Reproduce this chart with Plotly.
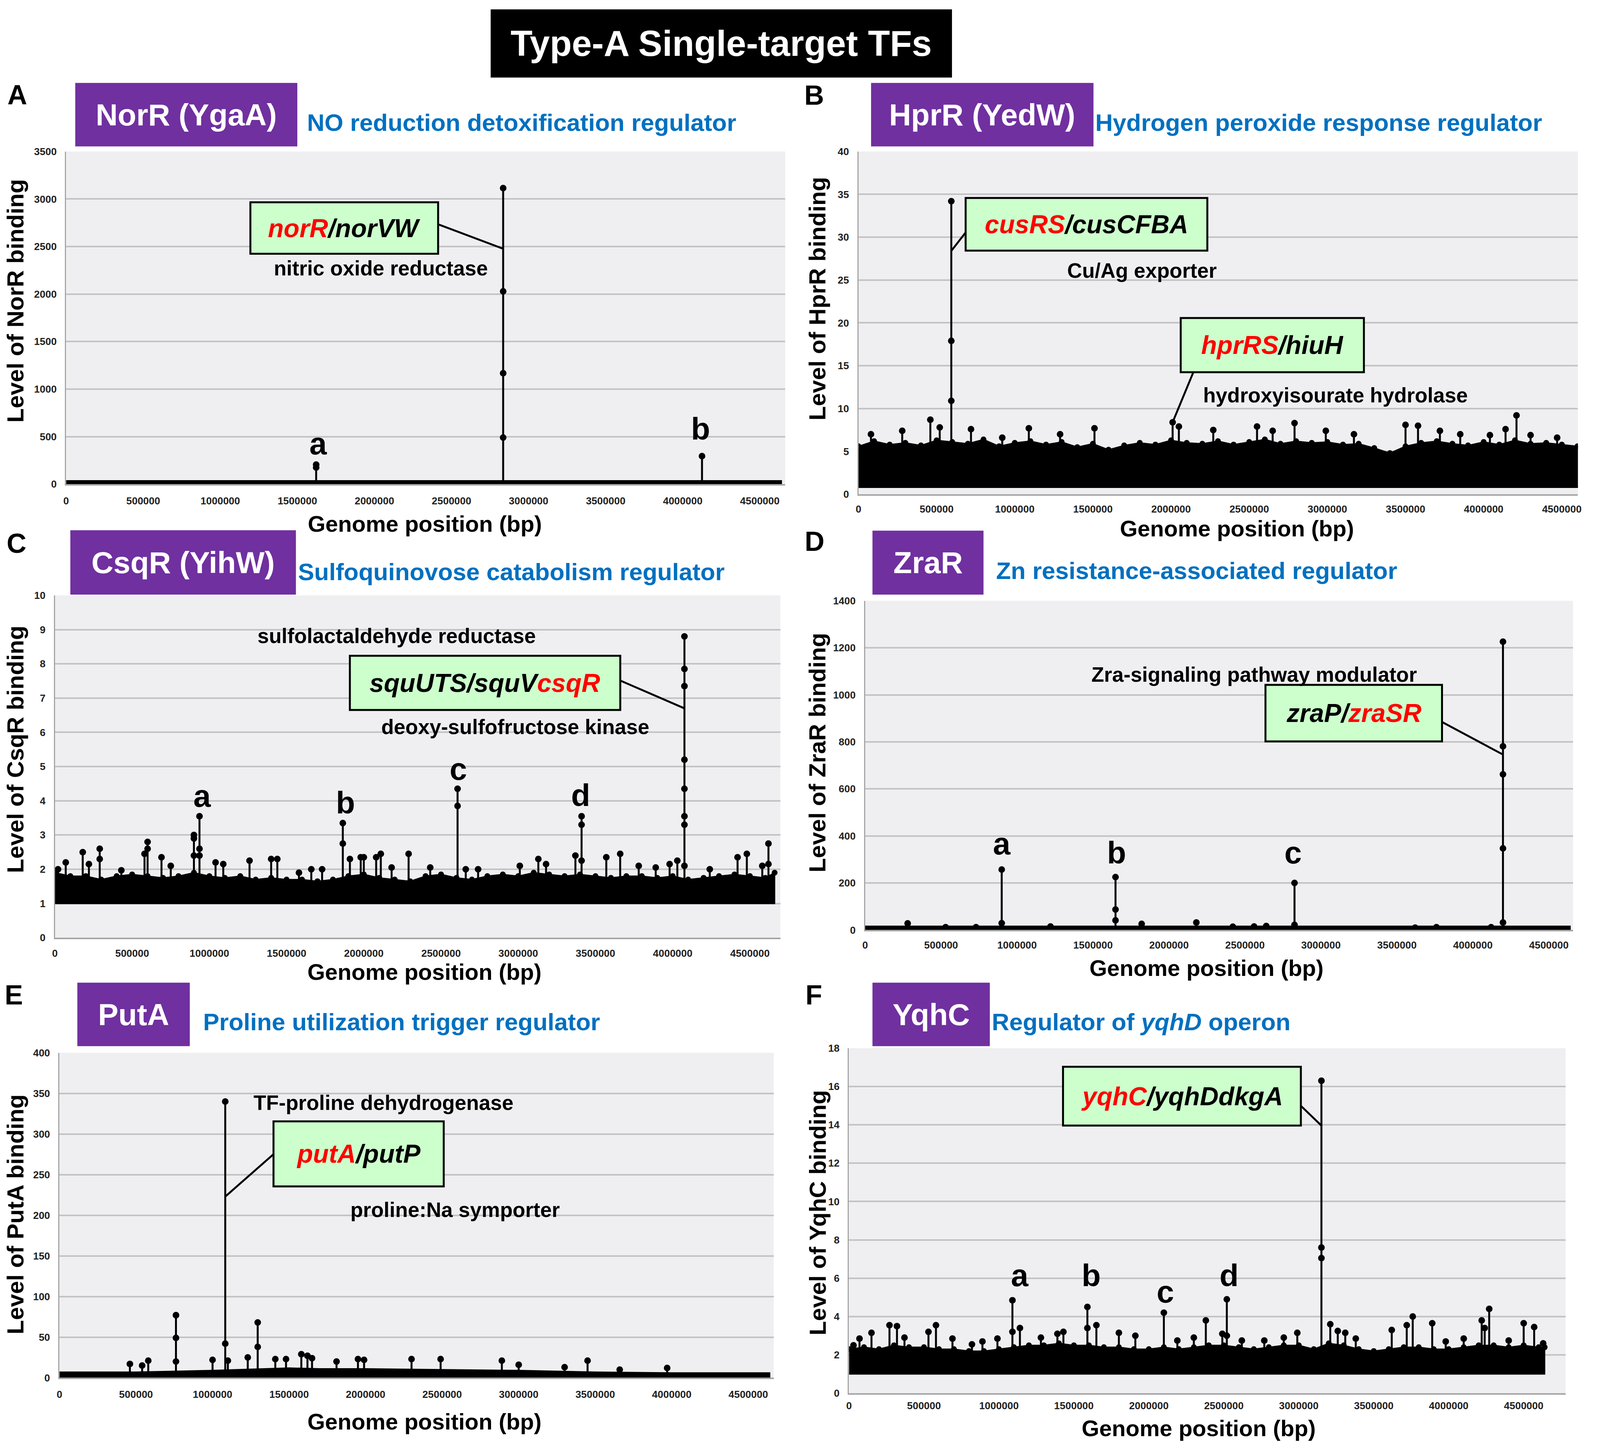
import plotly.graph_objects as go

# ---------------- data (positions in kbp) ----------------
X_TICKS = [0, 500000, 1000000, 1500000, 2000000, 2500000, 3000000, 3500000, 4000000, 4500000]
KB = 1000

# A  NorR
A_PEAK_KB = [1622, 2835, 4125]
A_PEAK_VALS = [[206, 175], [3115, 2029, 1168, 491], [295]]
A_BAND_KB = [0, 4640]
A_BAND_HI = [36, 36]
A_BAND_LO = 0

# B  HprR
B_PEAK_KB = [80, 280, 460, 520, 594, 720, 920, 1090, 1290, 1510,
             2010, 2050, 2270, 2550, 2650, 2790, 2990, 3170, 3500, 3580,
             3720, 3850, 4040, 4140, 4210, 4300, 4470]
B_PEAK_VALS = [[7.0], [7.4], [8.7], [7.8], [34.2, 17.9, 10.9], [7.6], [6.6], [7.7], [7.0], [7.7],
               [8.4], [7.9], [7.5], [7.9], [7.4], [8.3], [7.4], [7.0], [8.1], [8.0],
               [7.4], [7.0], [6.9], [7.6], [9.2], [6.9], [6.6]]
B_BAND_KB = [0, 100, 200, 300, 400, 500, 600, 700, 800, 900,
             1000, 1100, 1200, 1300, 1400, 1500, 1600, 1700, 1800, 1900,
             2000, 2100, 2200, 2300, 2400, 2500, 2600, 2700, 2800, 2900,
             3000, 3100, 3200, 3300, 3400, 3500, 3600, 3700, 3800, 3900,
             4000, 4100, 4200, 4300, 4400, 4500, 4600, 4640]
B_BAND_HI = [5.6, 6.2, 5.8, 6.0, 5.7, 6.3, 6.1, 5.9, 6.4, 5.6,
             6.0, 6.2, 5.8, 6.1, 5.5, 5.9, 5.2, 5.7, 6.0, 5.8,
             6.3, 6.0, 5.9, 6.2, 5.8, 6.1, 6.4, 5.9, 6.2, 6.0,
             6.1, 5.8, 5.9, 5.4, 4.8, 5.6, 6.0, 6.2, 5.9, 5.7,
             6.1, 5.8, 6.3, 5.9, 6.0, 5.8, 5.6, 5.4]
B_BAND_LO = 0.8

# C  CsqR
C_PEAK_KB = [20, 70, 180, 220, 290, 430, 580, 600, 690, 750,
             900, 936, 1040, 1090, 1260, 1400, 1440, 1580, 1660, 1730,
             1864, 1910, 1980, 2000, 2080, 2110, 2180, 2290, 2430, 2607,
             2660, 2740, 3010, 3130, 3180, 3370, 3410, 3570, 3660, 3780,
             3890, 3980, 4030, 4076, 4240, 4420, 4480, 4580, 4620]
C_PEAK_VALS = [[2.0], [2.2], [2.5], [2.15], [2.6, 2.3], [1.97], [2.45], [2.8, 2.6], [2.35], [2.1],
               [3.0, 2.9, 2.4], [3.55, 2.6, 2.4], [2.2], [2.15], [2.25], [2.3], [2.3], [1.9], [2.0], [2.0],
               [3.35, 2.75], [2.3], [2.35], [2.35], [2.35], [2.45], [2.05], [2.45], [2.05], [4.35, 3.85],
               [2.0], [2.0], [2.1], [2.3], [2.15], [2.4], [3.55, 3.3, 2.25], [2.35], [2.45], [2.1],
               [2.05], [2.15], [2.25], [8.8, 7.85, 7.35, 5.2, 4.35, 3.55, 3.3, 2.1], [2.0], [2.35], [2.45], [2.1], [2.75, 2.15]]
C_BAND_KB = B_BAND_KB[:-1] + [4660]
C_BAND_HI = [1.9, 1.8, 1.8, 1.7, 1.8, 1.85, 1.8, 1.75, 1.8, 1.9,
             1.8, 1.75, 1.8, 1.7, 1.75, 1.7, 1.7, 1.65, 1.7, 1.8,
             1.85, 1.75, 1.7, 1.65, 1.8, 1.85, 1.75, 1.7, 1.8, 1.85,
             1.8, 1.9, 1.85, 1.8, 1.85, 1.8, 1.75, 1.8, 1.8, 1.75,
             1.8, 1.7, 1.75, 1.8, 1.85, 1.8, 1.75, 1.9]
C_BAND_LO = 1.0

# D  ZraR
D_PEAK_KB = [280, 530, 730, 899, 1220, 1648, 1820, 2180, 2420, 2560, 2640, 2826, 3620, 3760, 4120, 4198]
D_PEAK_VALS = [[28], [12], [12], [257, 29], [15], [225, 87, 41], [26], [32], [14], [15], [17],
               [200, 22], [10], [12], [12], [1226, 781, 662, 347, 32]]
D_BAND_KB = [0, 4640]
D_BAND_HI = [16, 16]
D_BAND_LO = 0

# E  PutA
E_PEAK_KB = [460, 540, 580, 761, 1000, 1083, 1100, 1230, 1295, 1410,
             1480, 1580, 1620, 1650, 1810, 1950, 1990, 2300, 2490, 2890,
             3000, 3300, 3450, 3660, 3970]
E_PEAK_VALS = [[17], [15], [21], [77, 49, 20], [22], [340, 42], [21], [25], [68, 38], [23],
               [23], [29], [27], [24], [20], [23], [22], [23], [23], [21],
               [16], [13], [21], [10], [12]]
E_BAND_KB = [0, 500, 1000, 1500, 1700, 2000, 2500, 3000, 3500, 4000, 4640]
E_BAND_HI = [7, 7, 9, 12, 11, 11, 10, 9, 7, 6, 6]
E_BAND_LO = 0

# F  YqhC
F_PEAK_KB = [30, 70, 150, 270, 320, 370, 530, 580, 690, 820,
             890, 990, 1090, 1140, 1280, 1390, 1430, 1590, 1650, 1800,
             1910, 2100, 2190, 2300, 2380, 2490, 2520, 2620, 2770, 2900,
             2990, 3151, 3210, 3260, 3310, 3380, 3620, 3720, 3760, 3890,
             3980, 4100, 4220, 4240, 4270, 4400, 4500, 4570, 4630]
F_PEAK_VALS = [[2.5], [2.85], [3.15], [3.55], [3.5], [2.9], [3.2], [3.55], [2.85], [2.55],
               [2.7], [2.85], [4.85, 3.2], [3.4], [2.9], [3.1], [3.2], [4.5, 3.4], [3.55], [3.15],
               [3.0], [4.2], [2.75], [2.9], [3.8], [3.1], [4.9, 3.0], [2.75], [2.75], [2.9],
               [3.15], [16.3, 7.6, 7.05], [3.6], [3.25], [3.15], [2.85], [3.3], [3.55], [4.0], [3.65],
               [2.7], [2.85], [3.8], [3.4], [4.4], [2.75], [3.65], [3.45], [2.6]]
F_BAND_KB = B_BAND_KB
F_BAND_HI = [2.3, 2.4, 2.3, 2.5, 2.4, 2.4, 2.3, 2.3, 2.2, 2.2,
             2.3, 2.4, 2.5, 2.5, 2.6, 2.5, 2.5, 2.4, 2.4, 2.3,
             2.3, 2.4, 2.3, 2.4, 2.5, 2.5, 2.4, 2.3, 2.4, 2.5,
             2.5, 2.3, 2.6, 2.5, 2.3, 2.2, 2.3, 2.4, 2.4, 2.3,
             2.3, 2.4, 2.5, 2.5, 2.4, 2.5, 2.4, 2.4]
F_BAND_LO = 1.0

# ---------------- layout ----------------
# positions below are pixels measured on the 4550 x 3714 original; they are
# turned into paper fractions, so the page itself can be sized to the window
REF_W, REF_H = 4550, 3714
PAGE_W, PAGE_H = 4096, 3712
FONT = "Liberation Sans, Arial, sans-serif"
PURPLE = "#7030A0"
BLUE = "#0070C0"
RED = "#FF0000"
GENE_FILL = "#CCFFCC"


def red(s):
    return '<span style="color:%s">%s</span>' % (RED, s)


PANELS = [
    dict(data=(A_PEAK_KB, A_PEAK_VALS, A_BAND_KB, A_BAND_HI, A_BAND_LO), band_marks=False,
         letter=("A", 42, 230), box=(181, 376, 2234, 1235), xmax=4665000, ymax=3500, dtick=500,
         tf=("NorR (YgaA)", (207, 199, 841, 363)),
         sub=("NO reduction detoxification regulator", 866, 301),
         ytitle=("Level of NorR binding", 36, 762), xtitle=(1205, 1337), xstand=16,
         genes=[((707, 507, 1243, 640), "<i>%s/norVW</i>" % red("norR"), (1243, 564), (A_PEAK_KB[1], 2477))],
         notes=[("nitric oxide reductase", 1080, 677)],
         marks=[("a", 900, 1130), ("b", 1992, 1092)]),
    dict(data=(B_PEAK_KB, B_PEAK_VALS, B_BAND_KB, B_BAND_HI, B_BAND_LO), band_marks=True,
         letter=("B", 2317, 231), box=(2443, 376, 4497, 1261), xmax=4603000, ymax=40, dtick=5,
         tf=("HprR (YedW)", (2479, 199, 3114, 363)),
         sub=("Hydrogen peroxide response regulator", 3117, 301),
         ytitle=("Level of HprR binding", 2326, 756), xtitle=(3523, 1349), xstand=12,
         genes=[((2749, 496, 3439, 632), "<i>%s/cusCFBA</i>" % red("cusRS"), (2749, 585), (B_PEAK_KB[4], 28.4)),
                ((3363, 806, 3886, 946), "<i>%s/hiuH</i>" % red("hprRS"), (3399, 946), (B_PEAK_KB[10], 8.4))],
         notes=[("Cu/Ag exporter", 3253, 683), ("hydroxyisourate hydrolase", 3804, 1005)],
         marks=[]),
    dict(data=(C_PEAK_KB, C_PEAK_VALS, C_BAND_KB, C_BAND_HI, C_BAND_LO), band_marks=True,
         letter=("C", 40, 1388), box=(149, 1522, 2220, 2406), xmax=4697000, ymax=10, dtick=1,
         tf=("CsqR (YihW)", (193, 1354, 837, 1520)),
         sub=("Sulfoquinovose catabolism regulator", 841, 1461),
         ytitle=("Level of CsqR binding", 36, 1920), xtitle=(1204, 2494), xstand=14,
         genes=[((991, 1678, 1763, 1818), "<i>squUTS/squV%s</i>" % red("csqR"), (1763, 1742), (C_PEAK_KB[43], 6.7))],
         notes=[("sulfolactaldehyde reductase", 1125, 1627), ("deoxy-sulfofructose kinase", 1463, 1862)],
         marks=[("a", 569, 2040), ("b", 979, 2057), ("c", 1301, 1970), ("d", 1650, 2038)]),
    dict(data=(D_PEAK_KB, D_PEAK_VALS, D_BAND_KB, D_BAND_HI, D_BAND_LO), band_marks=False,
         letter=("D", 2318, 1383), box=(2462, 1536, 4483, 2386), xmax=4659000, ymax=1400, dtick=200,
         tf=("ZraR", (2483, 1355, 2800, 1520)),
         sub=("Zn resistance-associated regulator", 2834, 1458),
         ytitle=("Level of ZraR binding", 2326, 1928), xtitle=(3436, 2484), xstand=12,
         genes=[((3605, 1753, 4109, 1899), "<i>zraP/%s</i>" % red("zraSR"), (4109, 1849), (D_PEAK_KB[15], 746))],
         notes=[("Zra-signaling pathway modulator", 3572, 1726)],
         marks=[("a", 2852, 2163), ("b", 3180, 2186), ("c", 3684, 2186)]),
    dict(data=(E_PEAK_KB, E_PEAK_VALS, E_BAND_KB, E_BAND_HI, E_BAND_LO), band_marks=False,
         letter=("E", 32, 2554), box=(162, 2703, 2201, 3542), xmax=4666000, ymax=400, dtick=50,
         tf=("PutA", (213, 2522, 534, 2686)),
         sub=("Proline utilization trigger regulator", 570, 2623),
         ytitle=("Level of PutA binding", 36, 3120), xtitle=(1204, 3655), xstand=16,
         genes=[((773, 2880, 1259, 3048), "<i>%s/putP</i>" % red("putA"), (773, 2965), (E_PEAK_KB[5], 223))],
         notes=[("TF-proline dehydrogenase", 1087, 2832), ("proline:Na symporter", 1291, 3108)],
         marks=[]),
    dict(data=(F_PEAK_KB, F_PEAK_VALS, F_BAND_KB, F_BAND_HI, F_BAND_LO), band_marks=True,
         letter=("F", 2316, 2554), box=(2416, 2691, 4462, 3582), xmax=4780000, ymax=18, dtick=2,
         tf=("YqhC", (2483, 2522, 2818, 2686)),
         sub=("Regulator of <i>yqhD</i> operon", 2822, 2623),
         ytitle=("Level of YqhC binding", 2326, 3116), xtitle=(3414, 3672), xstand=6,
         genes=[((3027, 2739, 3706, 2891), "<i>%s/yqhDdkgA</i>" % red("yqhC"), (3706, 2840), (F_PEAK_KB[31], 13.96))],
         notes=[],
         marks=[("a", 2903, 3278), ("b", 3107, 3278), ("c", 3319, 3320), ("d", 3501, 3278)]),
]


def px(x):
    return x / REF_W


def py(y):
    return 1 - y / REF_H


shapes = []
annotations = []


def text(x, y, s, size, color="black", xanchor="center", angle=0):
    annotations.append(dict(x=px(x), y=py(y), xref="paper", yref="paper", text=s, showarrow=False,
                            xanchor=xanchor, yanchor="middle", textangle=angle,
                            font=dict(family=FONT, size=size, color=color, weight="bold")))


def rect(b, fill, edge=None, width=0):
    shapes.append(dict(type="rect", xref="paper", yref="paper", x0=px(b[0]), x1=px(b[2]),
                       y0=py(b[3]), y1=py(b[1]), fillcolor=fill, layer="above",
                       line=dict(color=edge or fill, width=width)))


fig = go.Figure()

# main heading
rect((1393, 9, 2710, 185), "black")
text(2051, 97, "Type-A Single-target TFs", 92, "white")

for n, p in enumerate(PANELS, start=1):
    xa = "x" if n == 1 else "x%d" % n
    ya = "y" if n == 1 else "y%d" % n
    peak_kb, peak_vals, band_kb, band_hi, lo = p["data"]
    l, t, r, b = p["box"]

    # dense background signal as a filled band
    bx = [k * KB for k in band_kb]
    fig.add_trace(go.Scatter(x=bx + bx[::-1], y=band_hi + [lo] * len(bx), fill="toself",
                             fillcolor="black", mode="lines", line=dict(color="black", width=3),
                             xaxis=xa, yaxis=ya, showlegend=False, hoverinfo="skip"))
    if p["band_marks"]:
        fig.add_trace(go.Scatter(x=bx, y=band_hi, mode="markers", marker=dict(color="black", size=15),
                                 xaxis=xa, yaxis=ya, showlegend=False))

    # peaks: stems with a dot at each measured value
    sx, sy, mx, my = [], [], [], []
    for k, vals in zip(peak_kb, peak_vals):
        sx += [k * KB, k * KB, None]
        sy += [lo, max(vals), None]
        mx += [k * KB] * len(vals)
        my += vals
    fig.add_trace(go.Scatter(x=sx, y=sy, mode="lines", line=dict(color="black", width=5),
                             xaxis=xa, yaxis=ya, showlegend=False))
    fig.add_trace(go.Scatter(x=mx, y=my, mode="markers", marker=dict(color="black", size=17),
                             xaxis=xa, yaxis=ya, showlegend=False))

    axis_common = dict(showline=True, linecolor="#a6a6a6", zeroline=False, ticks="",
                       tickfont=dict(family=FONT, size=26, color="#222222", weight="bold"),
                       tickformat="d")
    fig.update_layout({
        "xaxis" + ("" if n == 1 else str(n)): dict(
            domain=[px(l), px(r)], range=[0, p["xmax"]], anchor=ya, tickmode="array",
            tickvals=X_TICKS, ticktext=[str(v) for v in X_TICKS], showgrid=False, linewidth=4,
            ticklabelstandoff=p["xstand"], **axis_common),
        "yaxis" + ("" if n == 1 else str(n)): dict(
            domain=[py(b), py(t)], range=[0, p["ymax"]], anchor=xa, tick0=0, dtick=p["dtick"],
            showgrid=True, gridcolor="#c3c3c3", gridwidth=4, linewidth=3,
            ticklabelstandoff=16, **axis_common),
    })

    def to_px(xv, yv):
        return (l + xv * KB / p["xmax"] * (r - l), b - yv / p["ymax"] * (b - t))

    # panel letter, TF name box, subtitle
    s, x0, y0 = p["letter"]
    text(x0, y0, s, 70)
    name, nb = p["tf"]
    rect(nb, PURPLE)
    text((nb[0] + nb[2]) / 2, (nb[1] + nb[3]) / 2, name, 78, "white")
    s, x0, y0 = p["sub"]
    text(x0, y0, s, 62, BLUE, xanchor="left")

    # axis titles
    s, x0, y0 = p["ytitle"]
    text(x0, y0, s, 60, angle=-90)
    text(p["xtitle"][0], p["xtitle"][1], "Genome position (bp)", 58)

    # gene boxes with callout lines
    for gb, gtxt, start, target in p["genes"]:
        ex, ey = to_px(*target)
        shapes.append(dict(type="line", xref="paper", yref="paper", x0=px(start[0]), y0=py(start[1]),
                           x1=px(ex), y1=py(ey), line=dict(color="black", width=5), layer="above"))
        rect(gb, GENE_FILL, "black", 5)
        text((gb[0] + gb[2]) / 2, (gb[1] + gb[3]) / 2, gtxt, 66)

    for s, x0, y0 in p["notes"]:
        text(x0, y0, s, 53)
    for s, x0, y0 in p["marks"]:
        text(x0, y0, s, 80)

fig.update_layout(width=PAGE_W, height=PAGE_H, margin=dict(l=0, r=0, t=0, b=0),
                  paper_bgcolor="white", plot_bgcolor="#efeff1",
                  shapes=shapes, annotations=annotations, showlegend=False)

fig.write_html("out.html", config={"displayModeBar": False},
               post_script="document.body.style.margin='0';")
